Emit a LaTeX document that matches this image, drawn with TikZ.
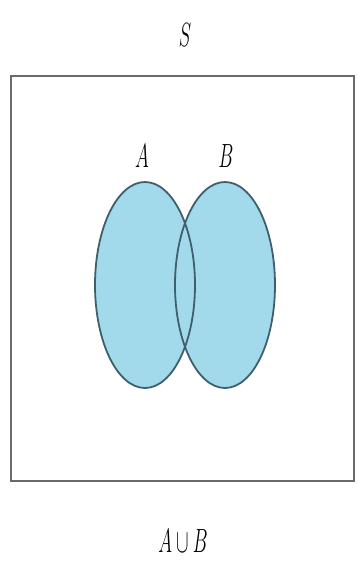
\documentclass[tikz,border=0pt]{standalone}
\usepackage{amsmath, amssymb}
\usepackage{tikz}

\definecolor{setfill}{HTML}{A2DAEC}
\definecolor{setline}{HTML}{3E5F6B}
\definecolor{boxline}{HTML}{6A6A6A}

\begin{document}
\begin{tikzpicture}[x=1pt,y=-1pt,
  lab/.style={font=\Huge, xscale=0.75, yscale=1.35, transform shape, inner sep=0pt}]
	\useasboundingbox (0,0) rectangle (357,562);
	% universal set
	\draw[boxline, line width=2.6pt] (11,76) rectangle (354,481);
	\node[lab] (S) at (185,35) {$S$};
	% the two sets
	\fill[setfill] (145,285) ellipse (50 and 103);
	\fill[setfill] (225,285) ellipse (50 and 103);
	\draw[setline, line width=1.8pt] (145,285) ellipse (50 and 103);
	\draw[setline, line width=1.8pt] (225,285) ellipse (50 and 103);
	\node[lab] (A) at (142,156) {$A$};
	\node[lab] (B) at (226,156) {$B$};
	% caption
	\node[lab] (AuB) at (183,541) {$A\cup B$};
\end{tikzpicture}
\end{document}
